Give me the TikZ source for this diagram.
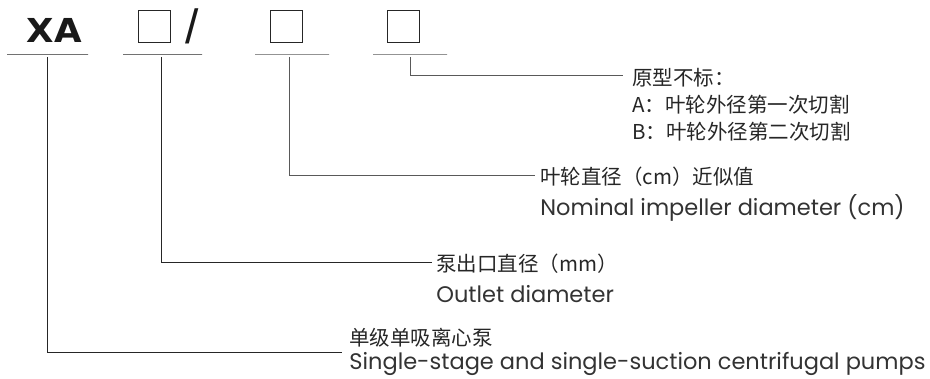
\documentclass[tikz,border=0pt]{standalone}
\usepackage{fontspec}
\setmainfont{Poppins}
\newfontfamily\cjk{Noto Sans CJK SC}
\newfontfamily\codefont{DejaVu Sans}[FakeStretch=1.08]
\newfontfamily\slashfont{Liberation Sans}
\usetikzlibrary{positioning}

\begin{document}
\begin{tikzpicture}[x=1pt, y=-1pt, node distance=2pt, thick]
\tikzstyle{codebox} = [rectangle, draw=black!85, line width=0.9pt, minimum size=32pt, inner sep=0pt]
\tikzstyle{underline} = [rectangle, draw=black!85, line width=0.9pt, minimum height=0pt, inner sep=0pt]
\tikzstyle{cnlabel} = [anchor=west, inner sep=0pt, font=\cjk\fontsize{20.5}{22}\selectfont, text height=18pt, text depth=2.5pt, text=black!85]
\tikzstyle{enlabel} = [anchor=west, inner sep=0pt, font=\fontsize{22.5}{24}\selectfont, text height=17pt, text depth=5.5pt, text=black!80]
\tikzstyle{leader} = [draw=black!85, line width=0.9pt]

\useasboundingbox (0,0) rectangle (930,378);

% code letters and boxes
\node[inner sep=0pt, font=\codefont\bfseries\fontsize{33}{35}\selectfont, text=black!90] (xa) at (54.5,30) {XA};
\node[codebox] (box1) at (154.5,26.5) {};
\node[inner sep=0pt, font=\slashfont\fontsize{48}{50}\selectfont, text=black!90] (slash) at (192.5,26) {/};
\node[codebox] (box2) at (286.5,26.5) {};
\node[codebox] (box3) at (403.5,26.5) {};

% underlines
\node[underline, minimum width=81pt] (u1) at (47.5,54) {};
\node[underline, minimum width=79pt] (u2) at (162.5,54) {};
\node[underline, minimum width=74pt, draw=black!65] (u3) at (292,54) {};
\node[underline, minimum width=74pt, draw=black!65] (u4) at (410,54) {};

% labels
\node[cnlabel] (cn4) at (632,78) {原型不标：};
\node[cnlabel, below=5.5pt of cn4.south west, anchor=north west] (cn4a) {A：叶轮外径第一次切割};
\node[cnlabel, below=5.5pt of cn4a.south west, anchor=north west] (cn4b) {B：叶轮外径第二次切割};

\node[cnlabel] (cn3) at (540,177) {叶轮直径（cm）近似值};
\node[enlabel, below=10.5pt of cn3.south west, anchor=north west] (en3) {Nominal impeller diameter (cm)};

\node[cnlabel] (cn2) at (436,264) {泵出口直径（mm）};
\node[enlabel, below=10.5pt of cn2.south west, anchor=north west] (en2) {Outlet diameter};

\node[cnlabel] (cn1) at (349,338) {单级单吸离心泵};
\node[enlabel, below=3.5pt of cn1.south west, anchor=north west] (en1) {Single-stage and single-suction centrifugal pumps};

% leaders
\coordinate (c4) at (623,75);
\coordinate (c3) at (535,175);
\coordinate (c2) at (432,262);
\coordinate (c1) at (342,352);
\draw[leader, draw=black!65] ([xshift=0.7pt]u4.south) ++(0,2.5) |- (c4);
\draw[leader, draw=black!65] ([xshift=-2.7pt]u3.south) ++(0,2.5) |- (c3);
\draw[leader] ([xshift=-1.5pt]u2.south) ++(0,2.5) |- (c2);
\draw[leader] (u1.south) ++(0,2.5) |- (c1);
\end{tikzpicture}
\end{document}
